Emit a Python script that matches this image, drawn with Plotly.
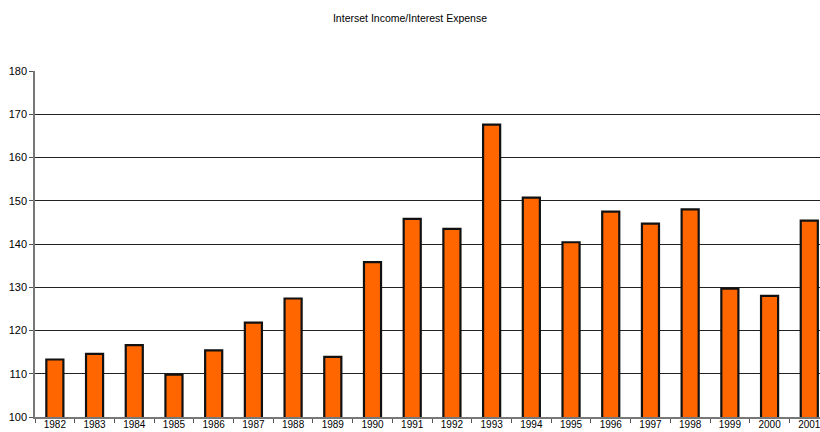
import plotly.graph_objects as go

years = [str(y) for y in range(1982, 2002)]
ratio = [113.3, 114.6, 116.6, 109.8, 115.4, 121.8, 127.4, 113.9, 135.8, 145.8,
         143.5, 167.6, 150.7, 140.4, 147.5, 144.7, 148.0, 129.7, 128.0, 145.4]

fig = go.Figure(
    go.Bar(
        x=years,
        y=ratio,
        width=0.43,
        marker=dict(color="#FF6600", line=dict(color="#111111", width=2.2)),
    )
)

font = dict(family="Liberation Sans, Arial, sans-serif", size=11, color="#000000")

fig.update_layout(
    width=820,
    height=432,
    margin=dict(l=35, r=0, t=71, b=15, autoexpand=False),
    paper_bgcolor="white",
    plot_bgcolor="white",
    showlegend=False,
    font=font,
    title=dict(text="Interset Income/Interest Expense", x=0.5, xanchor="center",
               y=0.958, yanchor="middle", font=dict(size=10.5)),
    bargap=0.57,
)

fig.update_xaxes(
    type="category",
    range=[-0.5, 19.27],
    tickson="boundaries",
    ticks="outside",
    ticklen=4,
    tickcolor="#555555",
    ticklabelstandoff=-3,
    showline=True,
    linecolor="#777777",
    linewidth=1.5,
    showgrid=False,
    automargin=False,
    tickfont=dict(size=10),
    tickangle=0,
)

fig.update_yaxes(
    range=[100, 180],
    dtick=10,
    ticks="outside",
    ticklen=4,
    tickcolor="#555555",
    showline=True,
    linecolor="#777777",
    linewidth=1.5,
    showgrid=True,
    gridcolor="#222222",
    gridwidth=1,
    zeroline=False,
    automargin=False,
    tickfont=dict(size=11),
)

fig.write_html("out.html")
